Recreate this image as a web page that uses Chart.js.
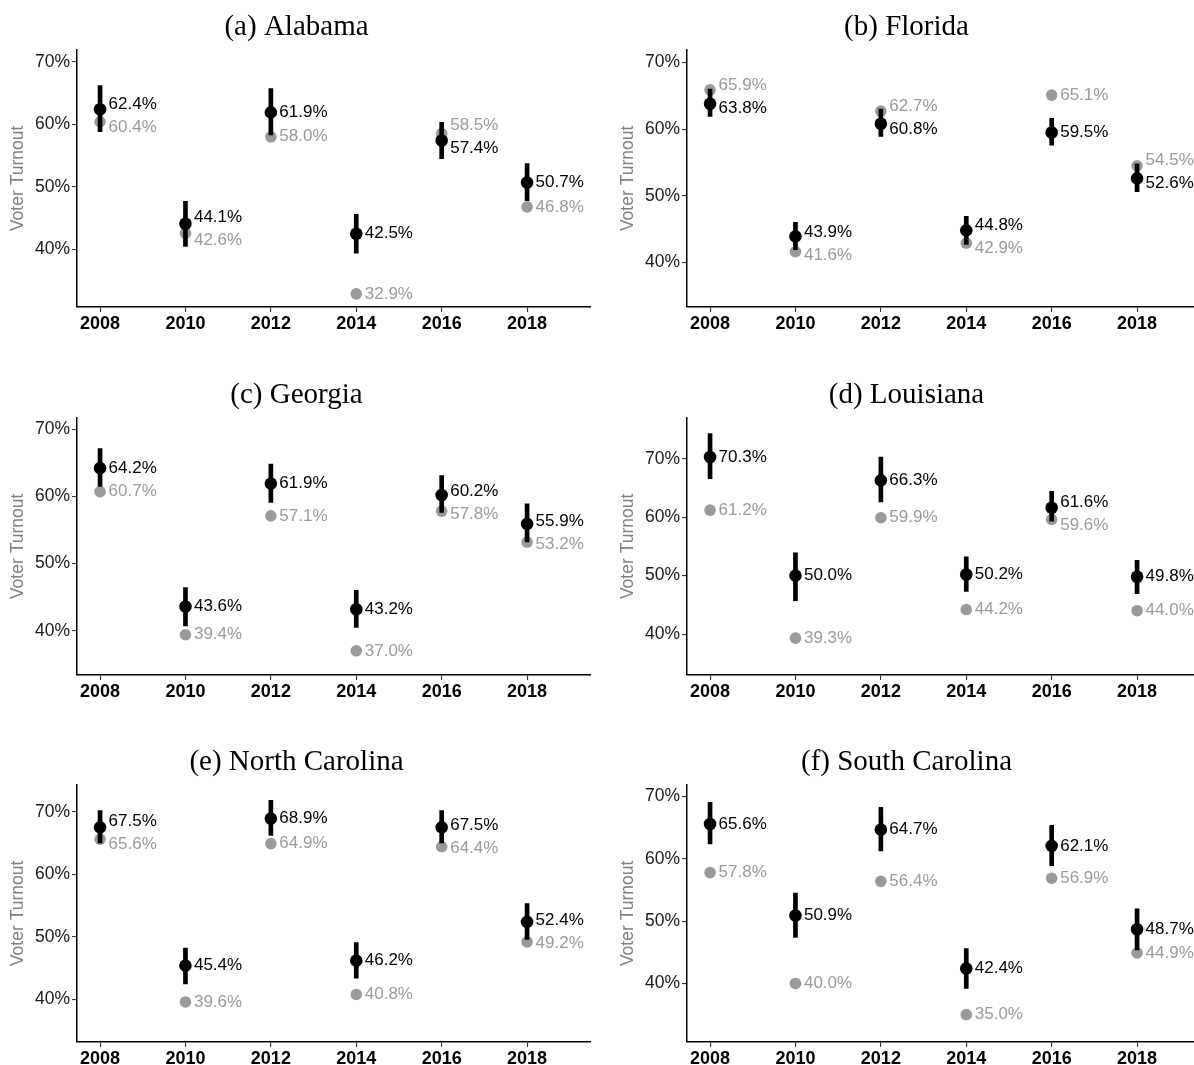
<!DOCTYPE html>
<html>
<head>
<meta charset="utf-8">
<script src="https://cdn.jsdelivr.net/npm/chart.js@4.4.1/dist/chart.umd.min.js"></script>
<style>
  html, body { margin: 0; padding: 0; background: #fff; overflow: hidden; }
  #wrap { position: relative; width: 1194px; height: 1065px; overflow: hidden; }
  #wrap canvas { position: absolute; }
</style>
</head>
<body>
<div id="wrap"></div>
<script>
const years = [2008, 2010, 2012, 2014, 2016, 2018];
const yTicks = [40, 50, 60, 70];
const titles = ['(a) Alabama', '(b) Florida', '(c) Georgia', '(d) Louisiana', '(e) North Carolina', '(f) South Carolina'];

// black points (with intervals) and grey points, per state
const pointAL = [62.4, 44.1, 61.9, 42.5, 57.4, 50.7];
const lowAL   = [58.8, 40.5, 58.3, 39.4, 54.5, 47.8];
const highAL  = [66.2, 47.7, 65.7, 45.6, 60.3, 53.7];
const greyAL  = [60.4, 42.6, 58.0, 32.9, 58.5, 46.8];

const pointFL = [63.8, 43.9, 60.8, 44.8, 59.5, 52.6];
const lowFL   = [61.9, 41.9, 58.9, 42.7, 57.6, 50.6];
const highFL  = [66.0, 46.0, 63.0, 46.9, 61.6, 54.8];
const greyFL  = [65.9, 41.6, 62.7, 42.9, 65.1, 54.5];

const pointGA = [64.2, 43.6, 61.9, 43.2, 60.2, 55.9];
const lowGA   = [61.5, 40.7, 59.1, 40.5, 57.6, 53.2];
const highGA  = [67.1, 46.4, 64.8, 46.0, 63.1, 58.9];
const greyGA  = [60.7, 39.4, 57.1, 37.0, 57.8, 53.2];

const pointLA = [70.3, 50.0, 66.3, 50.2, 61.6, 49.8];
const lowLA   = [66.6, 45.7, 62.6, 47.3, 59.3, 46.9];
const highLA  = [74.3, 53.9, 70.3, 53.2, 64.4, 52.6];
const greyLA  = [61.2, 39.3, 59.9, 44.2, 59.6, 44.0];

const pointNC = [67.5, 45.4, 68.9, 46.2, 67.5, 52.4];
const lowNC   = [65.0, 42.5, 66.2, 43.4, 65.0, 49.6];
const highNC  = [70.2, 48.2, 71.8, 49.1, 70.2, 55.3];
const greyNC  = [65.6, 39.6, 64.9, 40.8, 64.4, 49.2];

const pointSC = [65.6, 50.9, 64.7, 42.4, 62.1, 48.7];
const lowSC   = [62.4, 47.4, 61.3, 39.2, 58.9, 45.4];
const highSC  = [69.1, 54.5, 68.3, 45.6, 65.4, 52.0];
const greySC  = [57.8, 40.0, 56.4, 35.0, 56.9, 44.9];

// axis limits of each panel
const yMin = [30.8, 33.3, 33.4, 33.0, 33.2, 30.6];
const yMax = [71.9, 71.9, 71.7, 77.0, 74.3, 71.9];

const points = [pointAL, pointFL, pointGA, pointLA, pointNC, pointSC];
const lows   = [lowAL, lowFL, lowGA, lowLA, lowNC, lowSC];
const highs  = [highAL, highFL, highGA, highLA, highNC, highSC];
const greys  = [greyAL, greyFL, greyGA, greyLA, greyNC, greySC];

const colLeft = [0, 610];
const rowTop = [0, 368, 735];
const GREY = '#9a9a9a';

Chart.defaults.font.family = '"Liberation Sans", Arial, Helvetica, sans-serif';

// text labels next to the points, pushed apart when they'd overlap
function makeLabels(est, obs) {
  return {
    id: 'valueLabels',
    afterDatasetsDraw(chart) {
      const ctx = chart.ctx;
      const x = chart.scales.x, y = chart.scales.y;
      const gap = 23;
      ctx.save();
      ctx.font = '17px "Liberation Sans", Arial, sans-serif';
      ctx.textBaseline = 'middle';
      ctx.textAlign = 'left';
      for (let i = 0; i < years.length; i++) {
        const px = x.getPixelForValue(years[i]) + 8.5;
        let yb = y.getPixelForValue(est[i]);
        let yg = y.getPixelForValue(obs[i]);
        if (Math.abs(yb - yg) < gap) {
          const mid = (yb + yg) / 2;
          const s = yb <= yg ? -1 : 1;
          yb = mid + s * gap / 2;
          yg = mid - s * gap / 2;
        }
        ctx.fillStyle = GREY;
        ctx.fillText(obs[i].toFixed(1) + '%', px, yg);
        ctx.fillStyle = '#000';
        ctx.fillText(est[i].toFixed(1) + '%', px, yb);
      }
      ctx.restore();
    }
  };
}

function makePanel(k) {
  const wrap = document.getElementById('wrap');
  const canvas = document.createElement('canvas');
  canvas.width = 597;
  canvas.height = 337;
  canvas.style.left = colLeft[k % 2] + 'px';
  canvas.style.top = rowTop[Math.floor(k / 2)] + 'px';
  wrap.appendChild(canvas);

  const axisGrid = { drawOnChartArea: false, drawTicks: true, offset: false, tickLength: 5, color: '#333', lineWidth: 1.1 };
  const axisBorder = { display: true, color: '#000', width: 1.5 };

  new Chart(canvas, {
    type: 'scatter',
    data: {
      datasets: [
        {
          type: 'scatter',
          data: years.map((yr, i) => ({ x: yr, y: points[k][i] })),
          pointRadius: 6.3,
          backgroundColor: '#000',
          borderWidth: 0,
          order: 0
        },
        {
          type: 'bar',
          data: years.map((yr, i) => ({ x: yr, y: [lows[k][i], highs[k][i]] })),
          backgroundColor: '#000',
          barThickness: 4,
          borderWidth: 0,
          order: 1
        },
        {
          type: 'scatter',
          data: years.map((yr, i) => ({ x: yr, y: greys[k][i] })),
          pointRadius: 5.8,
          backgroundColor: GREY,
          borderWidth: 0,
          order: 2
        }
      ]
    },
    options: {
      responsive: false,
      animation: false,
      events: [],
      layout: { padding: { right: 4, bottom: 0 } },
      plugins: {
        legend: { display: false },
        tooltip: { enabled: false },
        title: {
          display: true,
          text: titles[k],
          color: '#000',
          font: { family: '"Liberation Serif", "Times New Roman", serif', size: 29, weight: 'normal' },
          padding: { top: 10, bottom: 5 }
        }
      },
      scales: {
        x: {
          type: 'linear',
          min: 2007.46,
          max: 2019.49,
          offset: false,
          afterBuildTicks: s => { s.ticks = years.map(v => ({ value: v })); },
          afterFit: s => { s.height = 30; },
          grid: axisGrid,
          border: axisBorder,
          ticks: {
            padding: 1,
            color: '#000',
            font: { size: 18, weight: 'bold' },
            callback: v => String(v)
          }
        },
        y: {
          type: 'linear',
          min: yMin[k],
          max: yMax[k],
          afterBuildTicks: s => { s.ticks = yTicks.map(v => ({ value: v })); },
          afterFit: s => { s.width = 77; },
          grid: axisGrid,
          border: axisBorder,
          ticks: {
            padding: 2,
            color: '#1a1a1a',
            font: { size: 17.5 },
            callback: v => v + '%'
          },
          title: {
            display: true,
            text: 'Voter Turnout',
            color: '#808080',
            font: { size: 17.5 },
            padding: { top: 8, bottom: 0 }
          }
        }
      }
    },
    plugins: [makeLabels(points[k], greys[k])]
  });
}

for (let k = 0; k < titles.length; k++) makePanel(k);
</script>
</body>
</html>
